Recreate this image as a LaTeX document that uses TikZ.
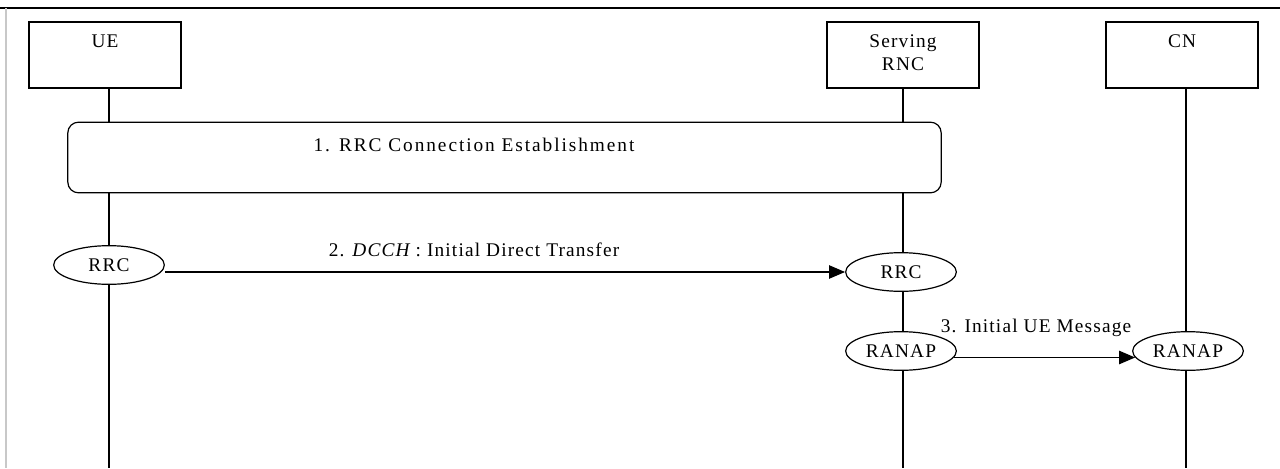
\documentclass[tikz,border=0pt]{standalone}
\usepackage{fontspec}
\setmainfont{Liberation Serif}
\newfontfamily\slight[LetterSpace=6]{Liberation Serif}
\newfontfamily\phasefont[LetterSpace=10]{Liberation Serif}
\usetikzlibrary{shapes.geometric, arrows.meta, positioning, calc, backgrounds}
\definecolor{framegray}{RGB}{200,200,200}

\tikzset{
    entity/.style={draw, line width=1pt, fill=white, minimum width=114pt, minimum height=49.5pt, inner sep=0pt},
    proto/.style={draw, ellipse, line width=0.9pt, fill=white, minimum width=83pt, minimum height=29pt, inner sep=0pt, font=\slight\fontsize{14.5}{17}\selectfont},
    phase/.style={draw, line width=0.9pt, fill=white, rounded corners=8pt, minimum width=655pt, minimum height=53pt},
    txt/.style={anchor=base, inner sep=0pt, font=\slight\fontsize{14.5}{17}\selectfont},
    msgtxt/.style={txt},
    life/.style={line width=0.9pt},
    msg/.style={line width=1pt, -{Triangle[length=12pt, width=10pt]}}
}

\begin{document}
\begin{tikzpicture}[x=0.75pt, y=-0.75pt]
    \useasboundingbox (0,0) rectangle (1280,468);
    % frame
    \draw[line width=1pt] (0,8) -- (1280,8);
    \draw[framegray, line width=1pt] (6,8) -- (6,468);

    % entities
    \node[entity] (ue) at (105,55) {};
    \node[entity] (srnc) at (903,55) {};
    \node[entity] (cn) at (1182,55) {};
    \node[txt] (ue-name) at (105,47) {UE};
    \node[txt] (srnc-name) at (903,47) {Serving};
    \node[txt] (srnc-name2) at (903,70) {RNC};
    \node[txt] (cn-name) at (1182,47) {CN};

    % 1. connection setup
    \node[phase] (setup) at (504.5,157.5) {};
    \node[txt, font=\phasefont\fontsize{14.5}{17}\selectfont] (setup-label) at (474,151) {1. RRC Connection Establishment};

    % protocol ends
    \node[proto] (ue-rrc) at (109,265) {RRC};
    \node[proto] (srnc-rrc) at (901,272) {RRC};
    \node[proto] (srnc-ranap) at (901,351) {RANAP};
    \node[proto] (cn-ranap) at (1188,351) {RANAP};

    % lifelines
    \coordinate (ue-end) at (109,468);
    \coordinate (srnc-end) at (903,468);
    \coordinate (cn-end) at (1186,468);
    \begin{pgfonlayer}{background}
        \draw[life] (ue.south -| ue-end) -- (ue-end);
        \draw[life] (srnc.south -| srnc-end) -- (srnc-end);
        \draw[life] (cn.south -| cn-end) -- (cn-end);
    \end{pgfonlayer}

    % messages
    \draw[msg] (ue-rrc.east |- srnc-rrc.west) -- (srnc-rrc.west);
    \node[msgtxt] (dt-label) at (474,256) {2. {\itshape DCCH} : Initial Direct Transfer};
    \draw[msg] (srnc-ranap.-7) -- (cn-ranap.187);
    \node[msgtxt] (ue-msg-label) at (1036,332) {3. Initial UE Message};
\end{tikzpicture}
\end{document}
